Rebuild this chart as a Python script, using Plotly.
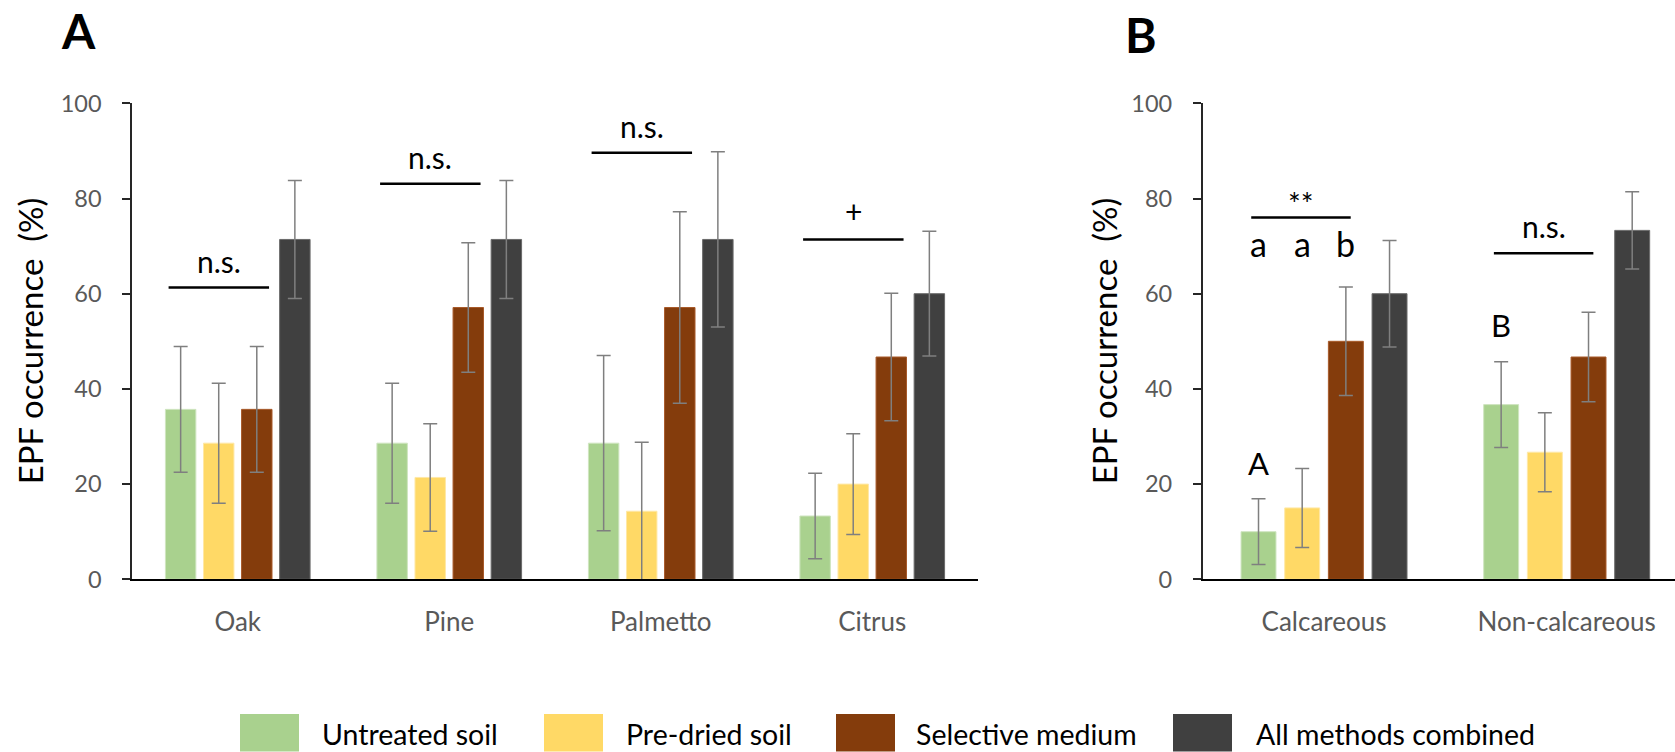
import plotly.graph_objects as go

# ---- data -------------------------------------------------------------
methods = ["Untreated soil", "Pre-dried soil", "Selective medium", "All methods combined"]

habitats = ["Oak", "Pine", "Palmetto", "Citrus"]
hab_untreated = [35.7, 28.6, 28.6, 13.3]
hab_predried = [28.6, 21.4, 14.3, 20.0]
hab_selective = [35.7, 57.1, 57.1, 46.7]
hab_combined = [71.4, 71.4, 71.4, 60.0]
hab_untreated_se = [13.2, 12.6, 18.4, 9.0]
hab_predried_se = [12.6, 11.3, 14.5, 10.6]
hab_selective_se = [13.2, 13.6, 20.1, 13.4]
hab_combined_se = [12.4, 12.4, 18.4, 13.1]

soils = ["Calcareous", "Non-calcareous"]
soil_untreated = [10.0, 36.7]
soil_predried = [15.0, 26.7]
soil_selective = [50.0, 46.7]
soil_combined = [60.0, 73.3]
soil_untreated_se = [6.9, 9.0]
soil_predried_se = [8.3, 8.3]
soil_selective_se = [11.4, 9.4]
soil_combined_se = [11.2, 8.1]

# significance of the three single methods within each group
hab_sig_labels = ["n.s.", "n.s.", "n.s.", "+"]
hab_sig_levels = [61.3, 83.1, 89.6, 71.4]
soil_sig_labels = ["**", "n.s."]
soil_sig_levels = [76.0, 68.5]
calc_letters = ["a", "a", "b"]
calc_letters_level = 70.6
untreated_letters = ["A", "B"]
untreated_letters_levels = [24.5, 53.4]

y_ticks = [0, 20, 40, 60, 80, 100]

# ---- style ------------------------------------------------------------
W, H = 1675, 752
FONT = "Lato"
colors = ["#A9D18E", "#FFD966", "#843C0C", "#404040"]
edge_colors = ["#cfe5c0", "#ffe8a6", "#a85a2a", "#6a6a6a"]
TICK_GREY = "#595959"
BARGAP = 0.28
BARGROUPGAP = 0.2


def px(x):
    return x / W


def py(y):
    return 1 - y / H


fig = go.Figure()

hab_series = [hab_untreated, hab_predried, hab_selective, hab_combined]
hab_errors = [hab_untreated_se, hab_predried_se, hab_selective_se, hab_combined_se]
soil_series = [soil_untreated, soil_predried, soil_selective, soil_combined]
soil_errors = [soil_untreated_se, soil_predried_se, soil_selective_se, soil_combined_se]

for k, name in enumerate(methods):
    err_style = dict(type="data", color="#7f7f7f", thickness=1.5, width=7)
    fig.add_trace(go.Bar(
        x=habitats, y=hab_series[k], name=name, xaxis="x", yaxis="y",
        marker=dict(color=colors[k], line=dict(color=edge_colors[k], width=1)),
        error_y=dict(array=hab_errors[k], **err_style),
        showlegend=False,
    ))
    fig.add_trace(go.Bar(
        x=soils, y=soil_series[k], name=name, xaxis="x2", yaxis="y2",
        marker=dict(color=colors[k], line=dict(color=edge_colors[k], width=1)),
        error_y=dict(array=soil_errors[k], **err_style),
        showlegend=False,
    ))

shapes = []
annotations = []

# slot geometry of a bar group, in category units
slot = (1 - BARGAP) / len(methods)
offsets = [(k - (len(methods) - 1) / 2) * slot for k in range(len(methods))]

shift_by_label = {"n.s.": 27, "+": 28, "**": 15}

# significance bars, panel A
for i, (lab, lev) in enumerate(zip(hab_sig_labels, hab_sig_levels)):
    x0, x1 = i - 0.327, i + 0.148
    shapes.append(dict(type="line", xref="x", yref="y", x0=x0, x1=x1, y0=lev, y1=lev,
                       line=dict(color="black", width=2.5)))
    annotations.append(dict(xref="x", yref="y", x=(x0 + x1) / 2, y=lev, text=lab,
                            showarrow=False, yanchor="middle", yshift=shift_by_label[lab],
                            font=dict(family=FONT, size=30, color="black")))

# significance bars, panel B
for i, (lab, lev) in enumerate(zip(soil_sig_labels, soil_sig_levels)):
    x0, x1 = i - 0.30, i + 0.11
    shapes.append(dict(type="line", xref="x2", yref="y2", x0=x0, x1=x1, y0=lev, y1=lev,
                       line=dict(color="black", width=2.5)))
    annotations.append(dict(xref="x2", yref="y2", x=(x0 + x1) / 2, y=lev, text=lab,
                            showarrow=False, yanchor="middle", yshift=shift_by_label[lab],
                            font=dict(family=FONT, size=30, color="black")))

for k, lab in enumerate(calc_letters):
    annotations.append(dict(xref="x2", yref="y2", x=0 + offsets[k], y=calc_letters_level,
                            text=lab, showarrow=False, yanchor="middle",
                            font=dict(family=FONT, size=34, color="black")))

for i, lab in enumerate(untreated_letters):
    annotations.append(dict(xref="x2", yref="y2", x=i + offsets[0], y=untreated_letters_levels[i],
                            text=lab, showarrow=False, yanchor="middle",
                            font=dict(family=FONT, size=31, color="black")))

# panel letters
annotations.append(dict(xref="paper", yref="paper", x=px(78.5), y=py(31), text="<b>A</b>",
                        showarrow=False, xanchor="center", yanchor="middle",
                        font=dict(family=FONT, size=48, color="black")))
annotations.append(dict(xref="paper", yref="paper", x=px(1141), y=py(34), text="<b>B</b>",
                        showarrow=False, xanchor="center", yanchor="middle",
                        font=dict(family=FONT, size=48, color="black")))

# y-axis titles
y_title = "EPF occurrence\u00a0 (%)"
for xc in (30, 1104):
    annotations.append(dict(xref="paper", yref="paper", x=px(xc), y=py(341.3), text=y_title,
                            textangle=-90, showarrow=False, xanchor="center", yanchor="middle",
                            font=dict(family=FONT, size=33, color="black")))

# legend
swatch_left = [240, 544, 836, 1173]
text_left = [320, 624, 914, 1254]
for k, name in enumerate(methods):
    shapes.append(dict(type="rect", xref="paper", yref="paper",
                       x0=px(swatch_left[k]), x1=px(swatch_left[k] + 59),
                       y0=py(751.5), y1=py(714), fillcolor=colors[k],
                       line=dict(width=0)))
    annotations.append(dict(xref="paper", yref="paper", x=px(text_left[k]), y=py(734),
                            text=name, showarrow=False, xanchor="left", yanchor="middle",
                            font=dict(family=FONT, size=28.5, color="black")))

y_dom = [py(579.3), py(103.3)]
common_y = dict(range=[0, 100], tickvals=y_ticks, showline=True, linecolor="#262626",
                linewidth=1.5, ticks="outside", ticklen=8, tickwidth=1.5, tickcolor="#262626",
                showgrid=False, zeroline=False, ticklabelstandoff=16, automargin=False,
                tickfont=dict(family=FONT, size=23.5, color=TICK_GREY), fixedrange=True)
common_x = dict(type="category", showline=True, linecolor="black", linewidth=2, ticks="",
                showgrid=False, zeroline=False, ticklabelstandoff=18, automargin=False,
                tickfont=dict(family=FONT, size=26, color=TICK_GREY), fixedrange=True)

fig.update_layout(
    width=W, height=H, autosize=False,
    margin=dict(l=0, r=0, t=0, b=0, pad=0, autoexpand=False),
    paper_bgcolor="white", plot_bgcolor="white",
    font=dict(family=FONT),
    barmode="group", bargap=BARGAP, bargroupgap=BARGROUPGAP,
    showlegend=False,
    xaxis=dict(domain=[px(132), px(978)], anchor="y", range=[-0.5, 3.5], **common_x),
    yaxis=dict(domain=y_dom, anchor="x", **common_y),
    xaxis2=dict(domain=[px(1202.7), 1.0], anchor="y2", range=[-0.5, 1.4464], **common_x),
    yaxis2=dict(domain=y_dom, anchor="x2", **common_y),
    shapes=shapes,
    annotations=annotations,
)

# keep the page flush with the figure
page_css = ("document.body.style.margin='0';"
            "document.body.style.padding='0';"
            "document.body.style.overflow='hidden';")
fig.write_html("out.html", config={"responsive": False, "displayModeBar": False},
               post_script=page_css)
